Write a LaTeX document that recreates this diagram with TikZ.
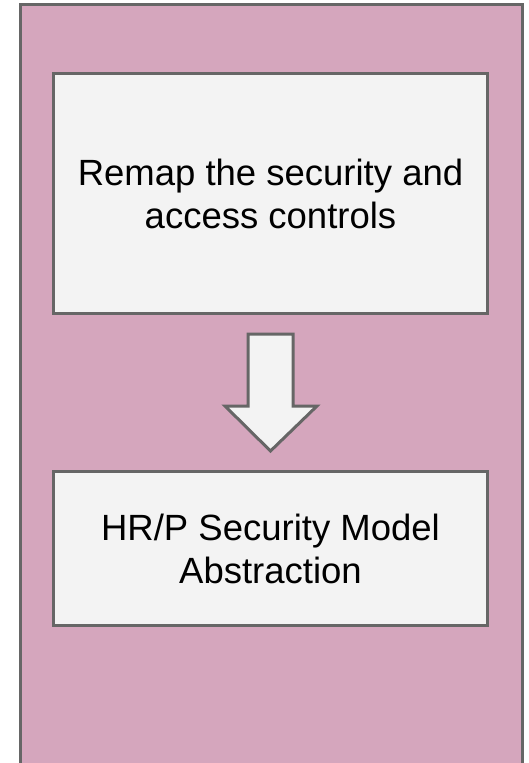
\documentclass[tikz,border=0pt]{standalone}
\usepackage{fontspec}
\setmainfont{Liberation Sans}
\definecolor{pinkbg}{HTML}{D5A6BD}
\definecolor{boxfill}{HTML}{F3F3F3}
\definecolor{edge}{HTML}{666666}
\tikzset{
  panel/.style={draw=edge, line width=3pt, fill=pinkbg},
  stepbox/.style={draw=edge, line width=3pt, fill=boxfill},
  label/.style={align=center, font=\fontsize{36.5}{43.5}\selectfont, text=black, inner sep=0pt},
  blockarrow/.style={draw=edge, line width=3pt, fill=boxfill, line join=miter}
}
\begin{document}
\begin{tikzpicture}[x=1pt, y=-1pt]
\useasboundingbox (0,0) rectangle (528,763);
\begin{scope}
\clip (0,0) rectangle (528,763);
\draw[panel] (20.5,4.5) rectangle (522,790);
\end{scope}
\draw[stepbox] (53.5,73.5) rectangle (487,313);
\node[label] (top) at (270.5,194) {Remap the security and\\access controls};
\draw[stepbox] (53.5,471) rectangle (487,625);
\node[label] (bot) at (270.5,549) {HR/P Security Model\\Abstraction};
\coordinate (tip) at (270.5,451);
\draw[blockarrow] (248,334) -- (293,334) -- (293,406) -- (317,406) -- (tip) -- (225,406) -- (248,406) -- cycle;
\end{tikzpicture}
\end{document}
